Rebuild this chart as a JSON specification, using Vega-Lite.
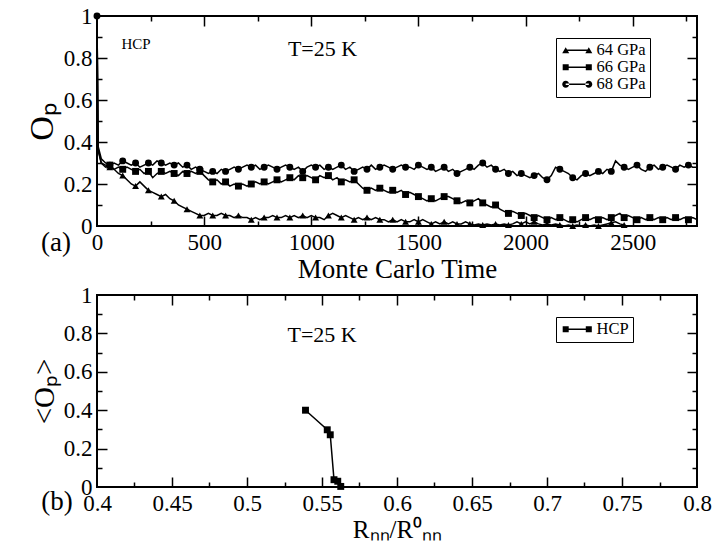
{
  "$schema": "https://vega.github.io/schema/vega-lite/v6.json",
  "background": "white",
  "padding": {"left": 24, "top": 4, "right": 5, "bottom": 2},
  "spacing": 0,
  "config": {
    "font": "Liberation Serif",
    "view": {"stroke": "black", "strokeWidth": 2},
    "axis": {"domain": false, "grid": false, "labelFont": "Liberation Serif", "labelFontSize": 23, "labelColor": "black", "tickColor": "black", "tickWidth": 1.5, "labelFlush": false, "labelOverlap": false, "titleFont": "Liberation Serif", "titleFontWeight": "normal", "titleColor": "black"},
    "legend": {"labelFont": "Liberation Serif", "labelFontSize": 16.5, "labelColor": "black", "strokeColor": "black", "fillColor": "white", "padding": 4, "symbolSize": 196, "symbolStrokeWidth": 0, "symbolFillColor": "black", "symbolOffset": 9, "labelOffset": 11, "rowPadding": -2},
    "text": {"font": "Liberation Serif", "color": "black"}
  },
  "datasets": {
    "mc": [
      {"t":0,"64 GPa":1,"66 GPa":1,"68 GPa":1},
      {"t":5,"64 GPa":0.37,"66 GPa":0.36,"68 GPa":0.38},
      {"t":20,"64 GPa":0.30,"66 GPa":0.30,"68 GPa":0.32},
      {"t":40,"64 GPa":0.29,"66 GPa":0.28,"68 GPa":0.30},
      {"t":60,"64 GPa":0.28,"66 GPa":0.29,"68 GPa":0.29},
      {"t":80,"64 GPa":0.27,"66 GPa":0.27,"68 GPa":0.30},
      {"t":100,"64 GPa":0.25,"66 GPa":0.28,"68 GPa":0.29},
      {"t":120,"64 GPa":0.24,"66 GPa":0.27,"68 GPa":0.31},
      {"t":140,"64 GPa":0.22,"66 GPa":0.28,"68 GPa":0.30},
      {"t":160,"64 GPa":0.20,"66 GPa":0.27,"68 GPa":0.29},
      {"t":180,"64 GPa":0.19,"66 GPa":0.26,"68 GPa":0.30},
      {"t":200,"64 GPa":0.21,"66 GPa":0.27,"68 GPa":0.28},
      {"t":220,"64 GPa":0.19,"66 GPa":0.25,"68 GPa":0.29},
      {"t":240,"64 GPa":0.17,"66 GPa":0.26,"68 GPa":0.30},
      {"t":260,"64 GPa":0.16,"66 GPa":0.23,"68 GPa":0.29},
      {"t":280,"64 GPa":0.15,"66 GPa":0.25,"68 GPa":0.31},
      {"t":300,"64 GPa":0.14,"66 GPa":0.26,"68 GPa":0.30},
      {"t":320,"64 GPa":0.15,"66 GPa":0.25,"68 GPa":0.29},
      {"t":340,"64 GPa":0.13,"66 GPa":0.26,"68 GPa":0.30},
      {"t":360,"64 GPa":0.12,"66 GPa":0.25,"68 GPa":0.29},
      {"t":380,"64 GPa":0.10,"66 GPa":0.24,"68 GPa":0.30},
      {"t":400,"64 GPa":0.09,"66 GPa":0.26,"68 GPa":0.28},
      {"t":420,"64 GPa":0.08,"66 GPa":0.25,"68 GPa":0.29},
      {"t":440,"64 GPa":0.07,"66 GPa":0.26,"68 GPa":0.27},
      {"t":460,"64 GPa":0.06,"66 GPa":0.25,"68 GPa":0.28},
      {"t":480,"64 GPa":0.05,"66 GPa":0.26,"68 GPa":0.27},
      {"t":500,"64 GPa":0.05,"66 GPa":0.24,"68 GPa":0.26},
      {"t":520,"64 GPa":0.06,"66 GPa":0.22,"68 GPa":0.25},
      {"t":540,"64 GPa":0.05,"66 GPa":0.21,"68 GPa":0.26},
      {"t":560,"64 GPa":0.05,"66 GPa":0.22,"68 GPa":0.25},
      {"t":580,"64 GPa":0.06,"66 GPa":0.20,"68 GPa":0.27},
      {"t":600,"64 GPa":0.05,"66 GPa":0.21,"68 GPa":0.26},
      {"t":620,"64 GPa":0.05,"66 GPa":0.19,"68 GPa":0.27},
      {"t":640,"64 GPa":0.04,"66 GPa":0.20,"68 GPa":0.28},
      {"t":660,"64 GPa":0.05,"66 GPa":0.19,"68 GPa":0.27},
      {"t":680,"64 GPa":0.04,"66 GPa":0.20,"68 GPa":0.28},
      {"t":700,"64 GPa":0.04,"66 GPa":0.19,"68 GPa":0.29},
      {"t":720,"64 GPa":0.03,"66 GPa":0.20,"68 GPa":0.28},
      {"t":740,"64 GPa":0.04,"66 GPa":0.21,"68 GPa":0.29},
      {"t":760,"64 GPa":0.03,"66 GPa":0.20,"68 GPa":0.27},
      {"t":780,"64 GPa":0.04,"66 GPa":0.21,"68 GPa":0.28},
      {"t":800,"64 GPa":0.04,"66 GPa":0.20,"68 GPa":0.29},
      {"t":820,"64 GPa":0.05,"66 GPa":0.21,"68 GPa":0.28},
      {"t":840,"64 GPa":0.04,"66 GPa":0.22,"68 GPa":0.27},
      {"t":860,"64 GPa":0.04,"66 GPa":0.21,"68 GPa":0.28},
      {"t":880,"64 GPa":0.05,"66 GPa":0.22,"68 GPa":0.29},
      {"t":900,"64 GPa":0.04,"66 GPa":0.23,"68 GPa":0.28},
      {"t":920,"64 GPa":0.05,"66 GPa":0.22,"68 GPa":0.27},
      {"t":940,"64 GPa":0.04,"66 GPa":0.24,"68 GPa":0.28},
      {"t":960,"64 GPa":0.05,"66 GPa":0.23,"68 GPa":0.26},
      {"t":980,"64 GPa":0.04,"66 GPa":0.24,"68 GPa":0.28},
      {"t":1000,"64 GPa":0.05,"66 GPa":0.23,"68 GPa":0.29},
      {"t":1020,"64 GPa":0.04,"66 GPa":0.22,"68 GPa":0.28},
      {"t":1040,"64 GPa":0.04,"66 GPa":0.24,"68 GPa":0.29},
      {"t":1060,"64 GPa":0.03,"66 GPa":0.23,"68 GPa":0.27},
      {"t":1080,"64 GPa":0.05,"66 GPa":0.24,"68 GPa":0.28},
      {"t":1100,"64 GPa":0.06,"66 GPa":0.22,"68 GPa":0.27},
      {"t":1120,"64 GPa":0.05,"66 GPa":0.23,"68 GPa":0.28},
      {"t":1140,"64 GPa":0.04,"66 GPa":0.21,"68 GPa":0.29},
      {"t":1160,"64 GPa":0.05,"66 GPa":0.22,"68 GPa":0.27},
      {"t":1180,"64 GPa":0.04,"66 GPa":0.21,"68 GPa":0.28},
      {"t":1200,"64 GPa":0.03,"66 GPa":0.22,"68 GPa":0.26},
      {"t":1220,"64 GPa":0.04,"66 GPa":0.20,"68 GPa":0.27},
      {"t":1240,"64 GPa":0.03,"66 GPa":0.18,"68 GPa":0.28},
      {"t":1260,"64 GPa":0.04,"66 GPa":0.17,"68 GPa":0.27},
      {"t":1280,"64 GPa":0.03,"66 GPa":0.18,"68 GPa":0.29},
      {"t":1300,"64 GPa":0.04,"66 GPa":0.17,"68 GPa":0.27},
      {"t":1320,"64 GPa":0.03,"66 GPa":0.18,"68 GPa":0.28},
      {"t":1340,"64 GPa":0.03,"66 GPa":0.17,"68 GPa":0.29},
      {"t":1360,"64 GPa":0.02,"66 GPa":0.16,"68 GPa":0.28},
      {"t":1380,"64 GPa":0.03,"66 GPa":0.17,"68 GPa":0.27},
      {"t":1400,"64 GPa":0.02,"66 GPa":0.16,"68 GPa":0.28},
      {"t":1420,"64 GPa":0.03,"66 GPa":0.17,"68 GPa":0.29},
      {"t":1440,"64 GPa":0.02,"66 GPa":0.15,"68 GPa":0.28},
      {"t":1460,"64 GPa":0.02,"66 GPa":0.16,"68 GPa":0.28},
      {"t":1480,"64 GPa":0.03,"66 GPa":0.15,"68 GPa":0.27},
      {"t":1500,"64 GPa":0.02,"66 GPa":0.14,"68 GPa":0.29},
      {"t":1520,"64 GPa":0.03,"66 GPa":0.13,"68 GPa":0.28},
      {"t":1540,"64 GPa":0.02,"66 GPa":0.12,"68 GPa":0.27},
      {"t":1560,"64 GPa":0.01,"66 GPa":0.13,"68 GPa":0.28},
      {"t":1580,"64 GPa":0.02,"66 GPa":0.12,"68 GPa":0.26},
      {"t":1600,"64 GPa":0.01,"66 GPa":0.13,"68 GPa":0.27},
      {"t":1620,"64 GPa":0.02,"66 GPa":0.14,"68 GPa":0.28},
      {"t":1640,"64 GPa":0.01,"66 GPa":0.14,"68 GPa":0.26},
      {"t":1660,"64 GPa":0.02,"66 GPa":0.13,"68 GPa":0.27},
      {"t":1680,"64 GPa":0.01,"66 GPa":0.12,"68 GPa":0.25},
      {"t":1700,"64 GPa":0.01,"66 GPa":0.11,"68 GPa":0.26},
      {"t":1720,"64 GPa":0.02,"66 GPa":0.12,"68 GPa":0.27},
      {"t":1740,"64 GPa":0.01,"66 GPa":0.11,"68 GPa":0.28},
      {"t":1760,"64 GPa":0.005,"66 GPa":0.12,"68 GPa":0.27},
      {"t":1780,"64 GPa":0.01,"66 GPa":0.13,"68 GPa":0.29},
      {"t":1800,"64 GPa":0.005,"66 GPa":0.11,"68 GPa":0.30},
      {"t":1820,"64 GPa":0.01,"66 GPa":0.10,"68 GPa":0.28},
      {"t":1840,"64 GPa":0.005,"66 GPa":0.09,"68 GPa":0.29},
      {"t":1860,"64 GPa":0.01,"66 GPa":0.10,"68 GPa":0.27},
      {"t":1880,"64 GPa":0.005,"66 GPa":0.08,"68 GPa":0.26},
      {"t":1900,"64 GPa":0.01,"66 GPa":0.07,"68 GPa":0.27},
      {"t":1920,"64 GPa":0.005,"66 GPa":0.06,"68 GPa":0.25},
      {"t":1940,"64 GPa":0.01,"66 GPa":0.07,"68 GPa":0.26},
      {"t":1960,"64 GPa":0.02,"66 GPa":0.06,"68 GPa":0.24},
      {"t":1980,"64 GPa":0.01,"66 GPa":0.05,"68 GPa":0.25},
      {"t":2000,"64 GPa":0.02,"66 GPa":0.06,"68 GPa":0.24},
      {"t":2020,"64 GPa":0.01,"66 GPa":0.05,"68 GPa":0.23},
      {"t":2040,"64 GPa":0.02,"66 GPa":0.04,"68 GPa":0.24},
      {"t":2060,"64 GPa":0.01,"66 GPa":0.05,"68 GPa":0.25},
      {"t":2080,"64 GPa":0.005,"66 GPa":0.04,"68 GPa":0.23},
      {"t":2100,"64 GPa":0.01,"66 GPa":0.03,"68 GPa":0.22},
      {"t":2120,"64 GPa":0.005,"66 GPa":0.04,"68 GPa":0.24},
      {"t":2140,"64 GPa":0.01,"66 GPa":0.03,"68 GPa":0.28},
      {"t":2160,"64 GPa":0.005,"66 GPa":0.04,"68 GPa":0.27},
      {"t":2180,"64 GPa":0,"66 GPa":0.03,"68 GPa":0.26},
      {"t":2200,"64 GPa":0.005,"66 GPa":0.02,"68 GPa":0.25},
      {"t":2220,"64 GPa":0,"66 GPa":0.03,"68 GPa":0.23},
      {"t":2240,"64 GPa":0.005,"66 GPa":0.02,"68 GPa":0.22},
      {"t":2260,"64 GPa":0,"66 GPa":0.03,"68 GPa":0.24},
      {"t":2280,"64 GPa":0.005,"66 GPa":0.04,"68 GPa":0.25},
      {"t":2300,"64 GPa":0,"66 GPa":0.03,"68 GPa":0.24},
      {"t":2320,"64 GPa":0.005,"66 GPa":0.04,"68 GPa":0.25},
      {"t":2340,"64 GPa":0,"66 GPa":0.03,"68 GPa":0.26},
      {"t":2360,"64 GPa":0.005,"66 GPa":0.04,"68 GPa":0.25},
      {"t":2380,"64 GPa":0.01,"66 GPa":0.03,"68 GPa":0.27},
      {"t":2400,"64 GPa":0.015,"66 GPa":0.04,"68 GPa":0.26},
      {"t":2420,"64 GPa":0.02,"66 GPa":0.05,"68 GPa":0.31},
      {"t":2440,"64 GPa":0.01,"66 GPa":0.06,"68 GPa":0.29},
      {"t":2460,"64 GPa":0.005,"66 GPa":0.04,"68 GPa":0.28},
      {"t":2480,"64 GPa":null,"66 GPa":0.05,"68 GPa":0.27},
      {"t":2500,"64 GPa":null,"66 GPa":0.04,"68 GPa":0.28},
      {"t":2520,"64 GPa":null,"66 GPa":0.03,"68 GPa":0.29},
      {"t":2540,"64 GPa":null,"66 GPa":0.04,"68 GPa":0.27},
      {"t":2560,"64 GPa":null,"66 GPa":0.03,"68 GPa":0.26},
      {"t":2580,"64 GPa":null,"66 GPa":0.04,"68 GPa":0.28},
      {"t":2600,"64 GPa":null,"66 GPa":0.03,"68 GPa":0.29},
      {"t":2620,"64 GPa":null,"66 GPa":0.04,"68 GPa":0.27},
      {"t":2640,"64 GPa":null,"66 GPa":0.03,"68 GPa":0.28},
      {"t":2660,"64 GPa":null,"66 GPa":0.04,"68 GPa":0.29},
      {"t":2680,"64 GPa":null,"66 GPa":0.03,"68 GPa":0.28},
      {"t":2700,"64 GPa":null,"66 GPa":0.04,"68 GPa":0.27},
      {"t":2720,"64 GPa":null,"66 GPa":0.03,"68 GPa":0.29},
      {"t":2740,"64 GPa":null,"66 GPa":0.04,"68 GPa":0.28},
      {"t":2760,"64 GPa":null,"66 GPa":0.03,"68 GPa":0.29},
      {"t":2780,"64 GPa":null,"66 GPa":0.04,"68 GPa":0.28},
      {"t":2800,"64 GPa":null,"66 GPa":0.03,"68 GPa":0.28}
    ],
    "avg": [
      {"s":"HCP","r":0.539,"o":0.40},
      {"s":"HCP","r":0.5535,"o":0.298},
      {"s":"HCP","r":0.5555,"o":0.272},
      {"s":"HCP","r":0.558,"o":0.038},
      {"s":"HCP","r":0.5605,"o":0.03},
      {"s":"HCP","r":0.5625,"o":0.003}
    ]
  },
  "vconcat": [
    {
      "width": 600,
      "height": 210,
      "resolve": {"axis": {"x": "independent", "y": "independent"}, "scale": {"shape": "independent"}},
      "layer": [
        {
          "data": {"name": "mc"},
          "transform": [{"fold": ["64 GPa", "66 GPa", "68 GPa"], "as": ["s", "v"]}],
          "mark": {"type": "line", "color": "black", "strokeWidth": 1.5, "clip": true},
          "encoding": {
            "x": {"field": "t", "type": "quantitative", "scale": {"domain": [0, 2800], "nice": false, "zero": false},
                  "axis": {"orient": "bottom", "values": [0, 500, 1000, 1500, 2000, 2500], "format": "d", "ticks": false, "labelPadding": 5, "labelFont": "Liberation Serif", "title": "Monte Carlo Time", "titleFontSize": 27, "titlePadding": 2}},
            "y": {"field": "v", "type": "quantitative", "scale": {"domain": [0, 1], "nice": false},
                  "axis": {"orient": "left", "values": [0, 0.2, 0.4, 0.6, 0.8, 1], "format": "~g", "ticks": false, "labelPadding": 5, "labelFont": "Liberation Serif", "title": "Oₚ", "titleFontSize": 34, "titlePadding": 4}},
            "detail": {"field": "s"}
          }
        },
        {
          "data": {"name": "mc"},
          "transform": [{"fold": ["64 GPa", "66 GPa", "68 GPa"], "as": ["s", "v"]}, {"filter": "datum.t % 60 == 0 && isValid(datum.v) && (datum.t > 0 || datum.s == '68 GPa')"}],
          "mark": {"type": "point", "filled": true, "color": "black", "size": 48, "opacity": 1},
          "encoding": {
            "x": {"field": "t", "type": "quantitative", "scale": {"domain": [0, 2800], "nice": false, "zero": false},
                  "axis": {"orient": "top", "values": [500, 1000, 1500, 2000, 2500], "tickSize": -10, "labels": false, "title": null}},
            "y": {"field": "v", "type": "quantitative", "scale": {"domain": [0, 1], "nice": false},
                  "axis": {"orient": "right", "values": [0.2, 0.4, 0.6, 0.8], "tickSize": -10, "labels": false, "title": null}},
            "shape": {"field": "s", "type": "nominal", "scale": {"domain": ["64 GPa", "66 GPa", "68 GPa"], "range": ["triangle-up", "square", "circle"]}, "legend": null}
          }
        },
        {
          "data": {"name": "mc"},
          "transform": [{"filter": "datum.t < 0"}],
          "mark": {"type": "point", "filled": true, "color": "black", "opacity": 1},
          "encoding": {
            "x": {"field": "t", "type": "quantitative", "scale": {"domain": [0, 2800], "nice": false, "zero": false},
                  "axis": {"orient": "bottom", "values": [250, 750, 1250, 1750, 2250, 2750], "tickSize": -5, "labels": false, "title": null}},
            "y": {"field": "v", "type": "quantitative", "scale": {"domain": [0, 1], "nice": false},
                  "axis": {"orient": "left", "values": [0.1, 0.3, 0.5, 0.7, 0.9], "tickSize": -5, "labels": false, "title": null}},
            "shape": {"field": "s", "type": "nominal",
                      "scale": {"domain": ["64 GPa", "66 GPa", "68 GPa"],
                                "range": ["M-1.65,-0.1L1.65,-0.1L1.65,0.1L-1.65,0.1ZM-2.15,0.43L-1.65,-0.43L-1.15,0.43ZM1.15,0.43L1.65,-0.43L2.15,0.43Z",
                                          "M-1.65,-0.1L1.65,-0.1L1.65,0.1L-1.65,0.1ZM-2.08,-0.43L-1.22,-0.43L-1.22,0.43L-2.08,0.43ZM1.22,-0.43L2.08,-0.43L2.08,0.43L1.22,0.43Z",
                                          "M-1.65,-0.1L1.65,-0.1L1.65,0.1L-1.65,0.1ZM-2.15,0A0.5,0.5,0,1,0,-1.15,0A0.5,0.5,0,1,0,-2.15,0ZM1.15,0A0.5,0.5,0,1,0,2.15,0A0.5,0.5,0,1,0,1.15,0Z"]},
                      "legend": {"orient": "none", "legendX": 459, "legendY": 22, "title": null}}
          }
        },
        {
          "data": {"values": [{}]},
          "mark": {"type": "text", "text": "T=25 K", "fontSize": 22, "align": "left", "baseline": "alphabetic"},
          "encoding": {
            "x": {"datum": 891, "type": "quantitative", "scale": {"domain": [0, 2800], "nice": false, "zero": false},
                  "axis": {"orient": "top", "values": [250, 750, 1250, 1750, 2250, 2750], "tickSize": -5, "labels": false, "title": null}},
            "y": {"datum": 0.81, "type": "quantitative", "scale": {"domain": [0, 1], "nice": false},
                  "axis": {"orient": "right", "values": [0.1, 0.3, 0.5, 0.7, 0.9], "tickSize": -5, "labels": false, "title": null}}
          }
        },
        {
          "data": {"values": [{}]},
          "mark": {"type": "text", "text": "HCP", "fontSize": 15, "align": "center", "baseline": "alphabetic"},
          "encoding": {
            "x": {"datum": 182, "type": "quantitative", "scale": {"domain": [0, 2800], "nice": false, "zero": false},
                  "axis": {"orient": "bottom", "values": [500, 1000, 1500, 2000, 2500], "tickSize": -10, "labels": false, "title": null}},
            "y": {"datum": 0.843, "type": "quantitative", "scale": {"domain": [0, 1], "nice": false},
                  "axis": {"orient": "left", "values": [0.2, 0.4, 0.6, 0.8], "tickSize": -10, "labels": false, "title": null}}
          }
        },
        {
          "data": {"values": [{}]},
          "mark": {"type": "text", "text": "(a)", "fontSize": 27, "align": "center", "baseline": "alphabetic", "dx": -41, "dy": 25},
          "encoding": {
            "x": {"datum": 0, "type": "quantitative", "scale": {"domain": [0, 2800], "nice": false, "zero": false}, "axis": null},
            "y": {"datum": 0, "type": "quantitative", "scale": {"domain": [0, 1], "nice": false}, "axis": null}
          }
        }
      ]
    },
    {
      "width": 600,
      "height": 192,
      "resolve": {"axis": {"x": "independent", "y": "independent"}, "scale": {"shape": "independent"}},
      "layer": [
        {
          "data": {"name": "avg"},
          "mark": {"type": "line", "color": "black", "strokeWidth": 1.5},
          "encoding": {
            "x": {"field": "r", "type": "quantitative", "scale": {"domain": [0.4, 0.8], "nice": false, "zero": false},
                  "axis": {"orient": "bottom", "values": [0.4, 0.45, 0.5, 0.55, 0.6, 0.65, 0.7, 0.75, 0.8], "format": "~g", "ticks": false, "labelPadding": 5, "labelFont": "Liberation Serif", "title": "Rₙₙ/R⁰ₙₙ", "titleFontSize": 25, "titlePadding": 2}},
            "y": {"field": "o", "type": "quantitative", "scale": {"domain": [0, 1], "nice": false},
                  "axis": {"orient": "left", "values": [0, 0.2, 0.4, 0.6, 0.8, 1], "format": "~g", "ticks": false, "labelPadding": 5, "labelFont": "Liberation Serif", "title": "<Oₚ>", "titleFontSize": 29, "titlePadding": 4}}
          }
        },
        {
          "data": {"name": "avg"},
          "mark": {"type": "point", "filled": true, "color": "black", "size": 48, "opacity": 1, "shape": "square"},
          "encoding": {
            "x": {"field": "r", "type": "quantitative", "scale": {"domain": [0.4, 0.8], "nice": false, "zero": false},
                  "axis": {"orient": "top", "values": [0.45, 0.5, 0.55, 0.6, 0.65, 0.7, 0.75], "tickSize": -10, "labels": false, "title": null}},
            "y": {"field": "o", "type": "quantitative", "scale": {"domain": [0, 1], "nice": false},
                  "axis": {"orient": "right", "values": [0.2, 0.4, 0.6, 0.8], "tickSize": -10, "labels": false, "title": null}}
          }
        },
        {
          "data": {"name": "avg"},
          "transform": [{"filter": "datum.r < 0"}],
          "mark": {"type": "point", "filled": true, "color": "black", "opacity": 1},
          "encoding": {
            "x": {"field": "r", "type": "quantitative", "scale": {"domain": [0.4, 0.8], "nice": false, "zero": false},
                  "axis": {"orient": "bottom", "values": [0.425, 0.475, 0.525, 0.575, 0.625, 0.675, 0.725, 0.775], "tickSize": -5, "labels": false, "title": null}},
            "y": {"field": "o", "type": "quantitative", "scale": {"domain": [0, 1], "nice": false},
                  "axis": {"orient": "left", "values": [0.1, 0.3, 0.5, 0.7, 0.9], "tickSize": -5, "labels": false, "title": null}},
            "shape": {"field": "s", "type": "nominal",
                      "scale": {"domain": ["HCP"], "range": ["M-1.65,-0.1L1.65,-0.1L1.65,0.1L-1.65,0.1ZM-2.08,-0.43L-1.22,-0.43L-1.22,0.43L-2.08,0.43ZM1.22,-0.43L2.08,-0.43L2.08,0.43L1.22,0.43Z"]},
                      "legend": {"orient": "none", "legendX": 459, "legendY": 22, "title": null}}
          }
        },
        {
          "data": {"values": [{}]},
          "mark": {"type": "text", "text": "T=25 K", "fontSize": 22, "align": "left", "baseline": "alphabetic"},
          "encoding": {
            "x": {"datum": 0.527, "type": "quantitative", "scale": {"domain": [0.4, 0.8], "nice": false, "zero": false},
                  "axis": {"orient": "top", "values": [0.425, 0.475, 0.525, 0.575, 0.625, 0.675, 0.725, 0.775], "tickSize": -5, "labels": false, "title": null}},
            "y": {"datum": 0.753, "type": "quantitative", "scale": {"domain": [0, 1], "nice": false},
                  "axis": {"orient": "right", "values": [0.1, 0.3, 0.5, 0.7, 0.9], "tickSize": -5, "labels": false, "title": null}}
          }
        },
        {
          "data": {"values": [{}]},
          "mark": {"type": "text", "text": "(b)", "fontSize": 27, "align": "center", "baseline": "alphabetic", "dx": -40, "dy": 23},
          "encoding": {
            "x": {"datum": 0.4, "type": "quantitative", "scale": {"domain": [0.4, 0.8], "nice": false, "zero": false},
                  "axis": {"orient": "bottom", "values": [0.45, 0.5, 0.55, 0.6, 0.65, 0.7, 0.75], "tickSize": -10, "labels": false, "title": null}},
            "y": {"datum": 0, "type": "quantitative", "scale": {"domain": [0, 1], "nice": false},
                  "axis": {"orient": "left", "values": [0.2, 0.4, 0.6, 0.8], "tickSize": -10, "labels": false, "title": null}}
          }
        }
      ]
    }
  ]
}
